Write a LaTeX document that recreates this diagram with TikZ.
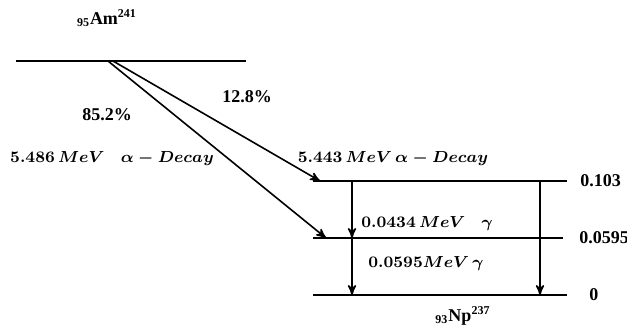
\documentclass[tikz,border=0pt]{standalone}
\usepackage{amsmath}
\usepackage{fontspec}
\setmainfont{Liberation Serif}
\usetikzlibrary{arrows,positioning}

\begin{document}
\begin{tikzpicture}[x=0.5pt,y=-0.5pt,font=\fontsize{9}{11}\selectfont\bfseries,
	level/.style={thick},
	decay/.style={->,>=stealth',thick},
	lbl/.style={inner sep=1pt},
	mlbl/.style={inner sep=1pt,font=\fontsize{8.2}{10}\selectfont}]
	\useasboundingbox (0,0) rectangle (627,326);
	
	% parent level
	\coordinate (A1) at (16,61);
	\coordinate (A2) at (246,61);
	\draw[level] (A1) -- (A2);
	\node[lbl] (Am) at (107,18) {\textsubscript{95}Am\textsuperscript{241}};
	\coordinate (S1) at (108,61);
	\coordinate (S2) at (113,61);
	
	% daughter levels
	\foreach \y/\xe/\e/\xl [count=\n] in {181/567/0.103/578,238/563/0.0595/577,295/567/0/587} {
		\coordinate (L\n w) at (313,\y);
		\coordinate (L\n e) at (\xe,\y);
		\draw[level] (L\n w) -- (L\n e);
		\node[lbl,anchor=west] (E\n) at (\xl,\y) {\e};
	}
	\node[lbl] (Np) at (463,316) {\textsubscript{93}Np\textsuperscript{237}};
	
	% alpha branches
	\coordinate (T1) at (320,181);
	\coordinate (T2) at (326,238);
	\draw[decay] (S2) -- (T1);
	\draw[decay] (S1) -- (T2);
	\node[lbl] (P1) at (247,97) {12.8\%};
	\node[lbl] (P2) at (107,115) {85.2\%};
	\node[mlbl] (D1) at (393,159) {$\boldsymbol{5.443\,MeV\,\alpha-Decay}$};
	\node[mlbl] (D2) at (112,159) {$\boldsymbol{5.486\,MeV\quad\alpha-Decay}$};
	
	% gamma transitions
	\coordinate (G1) at (352,181);
	\coordinate (G2) at (352,238);
	\coordinate (G3) at (352,295);
	\coordinate (G4) at (540,181);
	\coordinate (G5) at (540,295);
	\path[decay]
		(G1) edge (G2)
		(G2) edge (G3)
		(G4) edge (G5);
	\node[mlbl,anchor=west] (g1) at (359,224) {$\boldsymbol{0.0434\,MeV\quad\gamma}$};
	\node[mlbl,anchor=west] (g2) at (366,264) {$\boldsymbol{0.0595MeV\,\gamma}$};
\end{tikzpicture}
\end{document}
